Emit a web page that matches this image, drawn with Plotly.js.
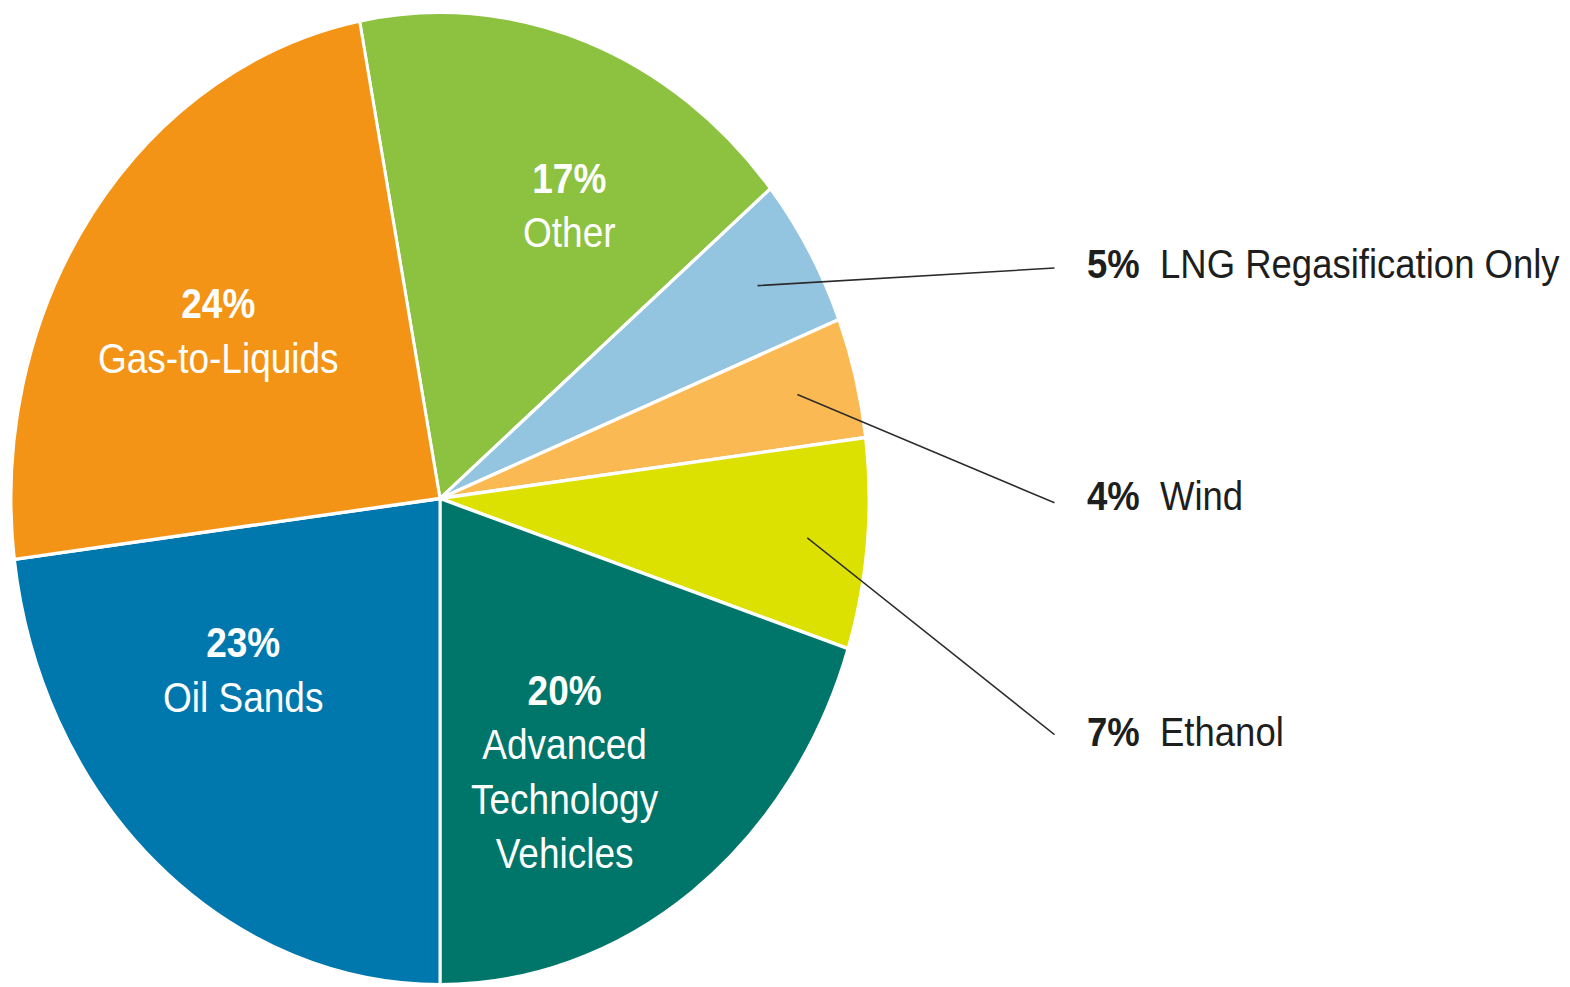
<!DOCTYPE html>
<html><head><meta charset="utf-8">
<script src="https://cdn.plot.ly/plotly-3.0.1.min.js"></script>
<style>
html,body{margin:0;padding:0;background:#fff;overflow:hidden;width:1570px;height:987px}
#chart{width:1570px;height:871px;transform:scaleY(1.13318);transform-origin:0 0}
</style>
</head><body><div id="chart"></div>
<script>
// ---- data ----
const categories = ['Other', 'LNG Regasification Only', 'Wind', 'Ethanol', 'Advanced Technology Vehicles', 'Oil Sands', 'Gas-to-Liquids'];
const shares = [17, 5, 4, 7, 20, 23, 24];
const sliceColors = ['#8cc23f', '#93c5e1', '#fbb953', '#dde102', '#00766a', '#0078ae', '#f39416'];

// ---- layout constants (unscaled pixel space 1570 x 871) ----
const W = 1570, H = 871;
const CX = 440, CY = 439.9, R = 429;
const ROTATION = -10.8;
const FONT = 'Liberation Sans, Arial, sans-serif';
const inside = {0: [569, 181], 6: [218, 292], 5: [243, 591], 4: [565, 681]};
const insideText = {4: 'Advanced<br>Technology<br>Vehicles'};
const outside = {1: {ty: 232, ly: 236.5}, 2: {ty: 437.7, ly: 443.9}, 3: {ty: 645, ly: 648.6}};
const LABEL_X = 1085, LINE_END_X = 1055, ANCHOR_FRAC = 0.86;

const total = shares.reduce((a, b) => a + b, 0);
const pct = v => Math.round(v / total * 100) + '%';

const traces = [{
  type: 'pie',
  labels: categories,
  values: shares,
  sort: false,
  direction: 'clockwise',
  rotation: ROTATION,
  textinfo: 'none',
  hoverinfo: 'label+percent',
  marker: {colors: sliceColors, line: {color: '#ffffff', width: 3}},
  domain: {x: [(CX - R) / W, (CX + R) / W], y: [(H - CY - R) / H, (H - CY + R) / H]},
  showlegend: false
}];

const annotations = [];
let cum = 0;
shares.forEach((v, i) => {
  const mid = (ROTATION + (cum + v / 2) / total * 360) * Math.PI / 180;
  cum += v;
  if (inside[i]) {
    annotations.push({
      xref: 'x', yref: 'y', x: inside[i][0], y: inside[i][1], showarrow: false,
      xanchor: 'center', yanchor: 'middle', align: 'center',
      text: '<b>' + pct(v) + '</b><br>' + (insideText[i] || categories[i]),
      font: {family: FONT, size: 37, color: '#ffffff'}
    });
  } else if (outside[i]) {
    const px = CX + ANCHOR_FRAC * R * Math.sin(mid);
    const py = CY - ANCHOR_FRAC * R * Math.cos(mid);
    annotations.push({
      xref: 'x', yref: 'y', axref: 'x', ayref: 'y',
      x: px, y: py, ax: LINE_END_X, ay: outside[i].ly,
      text: '', showarrow: true, arrowhead: 0, arrowwidth: 1.4, arrowcolor: '#2b2b2b',
      standoff: 0, startstandoff: 0, borderpad: 0
    });
    annotations.push({
      xref: 'x', yref: 'y', x: LABEL_X, y: outside[i].ty, showarrow: false,
      xanchor: 'left', yanchor: 'middle', align: 'left',
      text: '<b>' + pct(v) + '</b>\u00a0\u00a0' + categories[i],
      font: {family: FONT, size: 36.5, color: '#1e1e1e'}
    });
  }
});

const layout = {
  width: W, height: H,
  margin: {l: 0, r: 0, t: 0, b: 0},
  paper_bgcolor: '#ffffff', plot_bgcolor: 'rgba(0,0,0,0)',
  xaxis: {range: [0, W], visible: false, fixedrange: true},
  yaxis: {range: [H, 0], visible: false, fixedrange: true},
  annotations: annotations,
  showlegend: false
};

Plotly.newPlot('chart', traces, layout, {displayModeBar: false, staticPlot: true});
</script>
</body></html>
